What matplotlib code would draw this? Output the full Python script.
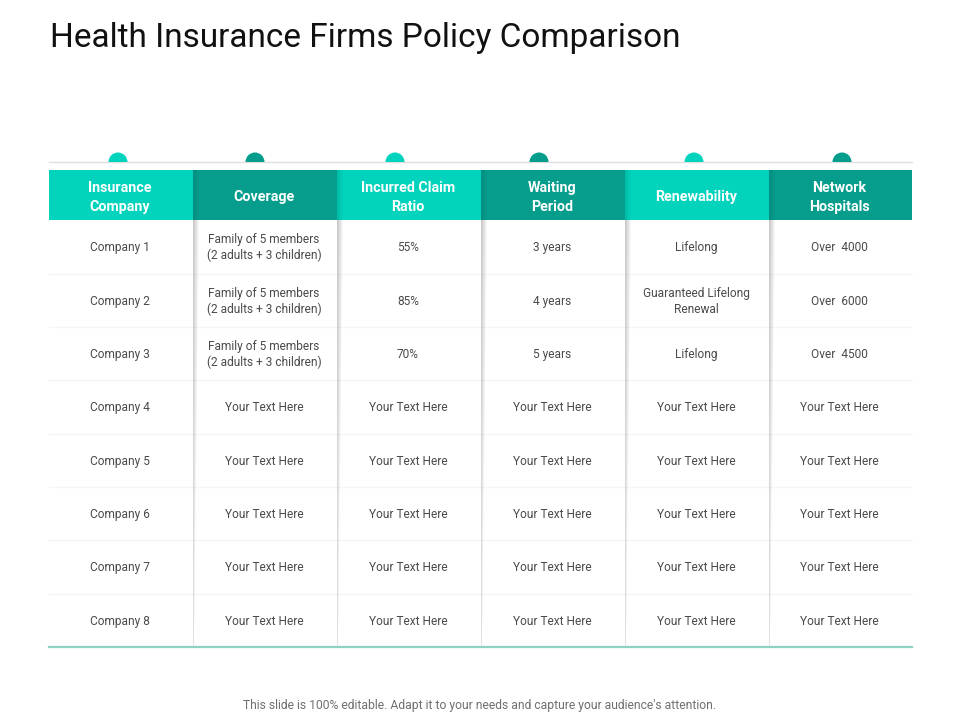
import numpy as np
import matplotlib
matplotlib.use("Agg")
import matplotlib.pyplot as plt
from matplotlib.patches import Wedge, Rectangle

title = "Health Insurance Firms Policy Comparison"
footer = "This slide is 100% editable. Adapt it to your needs and capture your audience's attention."
headers = ["Insurance\nCompany", "Coverage", "Incurred Claim\nRatio", "Waiting\nPeriod", "Renewability", "Network\nHospitals"]
fam = "Family of 5 members\n(2 adults + 3 children)"
ph = "Your Text Here"
rows = [
    ["Company 1", fam, "55%", "3 years", "Lifelong", "Over  4000"],
    ["Company 2", fam, "85%", "4 years", "Guaranteed Lifelong\nRenewal", "Over  6000"],
    ["Company 3", fam, "70%", "5 years", "Lifelong", "Over  4500"],
    ["Company 4", ph, ph, ph, ph, ph],
    ["Company 5", ph, ph, ph, ph, ph],
    ["Company 6", ph, ph, ph, ph, ph],
    ["Company 7", ph, ph, ph, ph, ph],
    ["Company 8", ph, ph, ph, ph, ph],
]
col_edges = [49, 193, 337, 481, 625, 769, 912]
row_edges = [220, 274, 327, 380, 434, 487, 540, 594, 647]
dot_x = [118, 255, 395, 539, 694, 842]

LIGHT, DARK = "#02d3bd", "#069d8d"
FONT = "Roboto"

fig = plt.figure(figsize=(9.6, 7.2), dpi=100, facecolor="white")
ax = fig.add_axes([0, 0, 1, 1])
ax.set_xlim(0, 960)
ax.set_ylim(720, 0)
ax.axis("off")

ax.text(50, 37.5, title, fontsize=24, family=FONT, color="#111111", va="center", ha="left")

# rule + half dots
ax.plot([49, 912], [161.5, 161.5], color="#dfdfdf", lw=1, zorder=2)
for i, x in enumerate(dot_x):
    ax.add_patch(Wedge((x, 162), 9.5, 180, 360, color=LIGHT if i % 2 == 0 else DARK, lw=0, zorder=3))

# header
for i, h in enumerate(headers):
    l, r = col_edges[i], col_edges[i + 1]
    ax.add_patch(Rectangle((l, 170), r - l, 50, color=DARK if i % 2 else LIGHT, lw=0, zorder=2))
    ax.text((l + r) / 2 - 1, 197.5, h, color="white", fontsize=10.3, weight="bold", family=FONT,
            ha="center", va="center", linespacing=1.5, zorder=6)

# row separators
for y in row_edges[1:-1]:
    ax.plot([49, 912], [y, y], color="#f5f5f5", lw=1, zorder=1)
ax.plot([49, 912], [647, 647], color="#8fd2c4", lw=1.6, zorder=4)

# soft vertical shadows beside the column edges, fading toward the bottom
for x in col_edges[1:-1]:
    h, w = 427, 7
    rgba = np.zeros((h, w, 4))
    rgba[..., :3] = 0.5
    down = np.linspace(1, 0, h)[:, None]
    width_fade = np.clip(1 - np.linspace(0, 1, w)[None, :] / (0.14 + 0.86 * down), 0, 1)
    rgba[..., 3] = 0.42 * width_fade * (0.55 + 0.45 * down)
    ax.imshow(rgba, extent=(x - 0.5, x - 0.5 + w, 647, 220), aspect="auto", zorder=3, interpolation="bilinear")
    # header shadow
    hs = np.zeros((50, 7, 4))
    hs[..., 3] = 0.10 * np.linspace(1, 0, 7)[None, :]
    ax.imshow(hs, extent=(x, x + 7, 220, 170), aspect="auto", zorder=5, interpolation="bilinear")
ax.set_xlim(0, 960)
ax.set_ylim(720, 0)

# body
for r, row in enumerate(rows):
    yc = (row_edges[r] + row_edges[r + 1]) / 2 + 0.8
    for c, txt in enumerate(row):
        xc = (col_edges[c] + col_edges[c + 1]) / 2 - 1
        ax.text(xc, yc, txt, fontsize=8.6, family=FONT, color="#4a4a4a",
                ha="center", va="center", linespacing=1.26, zorder=6)

ax.text(480, 705, footer, fontsize=8.7, family=FONT, color="#6f6f6f", ha="center", va="center")
fig.savefig("out.png", dpi=100, facecolor="white")
